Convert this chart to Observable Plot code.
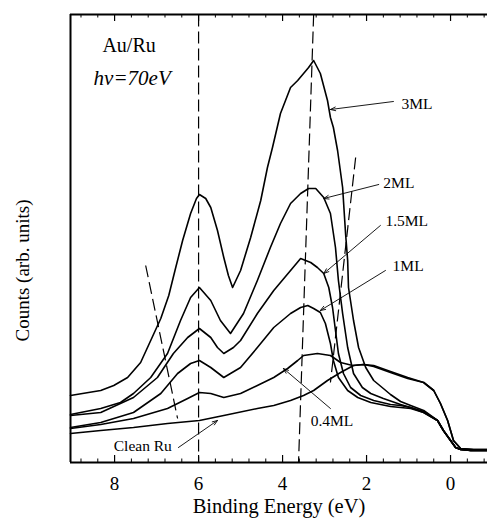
<!DOCTYPE html>
<html><head><meta charset="utf-8">
<script src="https://cdn.jsdelivr.net/npm/d3@7"></script>
<script src="https://cdn.jsdelivr.net/npm/@observablehq/plot@0.6"></script>
<style>html,body{margin:0;padding:0;background:#fff} svg{display:block} svg text{font-family:'Liberation Serif','Times New Roman',serif}</style>
</head><body><div id="chart"></div>
<script>
// Binding energy (eV), counts (arb. units)
const ml3 = [[9.05,67],[8.62,70],[8.33,72],[8.02,77],[7.69,85],[7.38,100],[7.14,122],[6.90,144],[6.71,167],[6.55,194],[6.38,222],[6.19,249],[6.05,264],[5.98,268],[5.83,264],[5.71,255],[5.55,232],[5.40,205],[5.29,187],[5.19,175],[5.00,192],[4.76,225],[4.52,262],[4.36,295],[4.24,315],[4.05,349],[3.93,362],[3.81,375],[3.64,382],[3.50,389],[3.38,395],[3.26,402],[3.10,389],[2.93,362],[2.86,345],[2.79,335],[2.69,312],[2.57,275],[2.50,229],[2.45,202],[2.43,175],[2.31,142],[2.19,115],[2.02,95],[1.83,82],[1.60,74],[1.43,68],[1.19,61],[0.95,57],[0.64,52],[0.31,42],[0.17,32],[0,22],[-0.12,15],[-0.24,13],[-0.48,12],[-0.88,12]];
const ml2 = [[9.05,48],[8.33,54],[7.86,60],[7.55,69],[7.14,85],[6.74,109],[6.43,142],[6.19,165],[5.98,175],[5.71,162],[5.48,142],[5.24,129],[4.93,149],[4.60,182],[4.29,215],[4.05,239],[3.81,259],[3.57,269],[3.38,274],[3.21,274],[3.02,265],[2.86,249],[2.74,215],[2.67,182],[2.57,149],[2.45,115],[2.31,89],[2.10,75],[1.90,69],[1.60,64],[1.19,58],[0.95,55],[0.64,51],[0.31,42],[0.17,32],[0,22],[-0.12,15],[-0.24,13],[-0.48,12],[-0.88,12]];
const ml15 = [[9.05,47],[8.33,50],[7.55,65],[6.98,85],[6.60,109],[6.26,125],[5.98,134],[5.71,125],[5.55,115],[5.40,109],[5.17,115],[5.00,122],[4.60,149],[4.21,172],[3.81,192],[3.57,204],[3.33,200],[3.17,195],[3.02,189],[2.90,175],[2.81,155],[2.74,132],[2.67,109],[2.55,89],[2.38,75],[2.14,67],[1.83,62],[1.43,58],[1.19,57],[0.95,55],[0.64,50],[0.31,42],[0.17,32],[0,22],[-0.12,15],[-0.24,13],[-0.48,12],[-0.88,12]];
const ml1 = [[9.05,35],[8.33,40],[7.55,50],[6.90,69],[6.50,89],[6.19,99],[5.98,102],[5.71,95],[5.40,85],[5.00,95],[4.60,115],[4.21,135],[3.81,149],[3.57,155],[3.40,157],[3.26,154],[3.10,150],[2.98,139],[2.86,119],[2.79,102],[2.67,85],[2.45,72],[2.21,65],[1.90,60],[1.43,56],[1.19,55],[0.95,54],[0.64,50],[0.31,42],[0.17,32],[0,22],[-0.12,15],[-0.24,13],[-0.48,12],[-0.88,12]];
const ml04 = [[9.05,34],[8.33,38],[7.55,44],[6.74,54],[6.26,64],[5.98,70],[5.71,69],[5.40,65],[5.00,69],[4.60,77],[4.21,85],[3.88,94],[3.64,102],[3.50,107],[3.17,109],[2.86,107],[2.62,100],[2.33,97],[2.07,98],[1.83,96],[1.43,90],[1.02,84],[0.64,80],[0.40,72],[0.24,59],[0.07,42],[-0.07,22],[-0.24,14],[-0.55,13],[-0.88,13]];
const cleanRu = [[9.05,29],[8.33,32],[7.55,35],[6.74,39],[5.98,42],[5.40,47],[4.60,54],[4.21,57],[3.81,62],[3.50,67],[3.26,72],[2.93,82],[2.62,90],[2.31,97],[2.07,98],[1.83,97],[1.43,91],[1.02,85],[0.64,80],[0.40,72],[0.24,59],[0.07,42],[-0.07,22],[-0.24,14],[-0.55,13],[-0.88,13]];

const seriesNames = ["3ML","2ML","1.5ML","1ML","0.4ML","Clean Ru"];
const seriesData = [ml3, ml2, ml15, ml1, ml04, cleanRu];

// label text positions [E, counts]
const labelText = ["3ML","2ML","1.5ML","1ML","0.4ML","Clean Ru"];
const labelPos = [[1.17,358],[1.60,279],[1.55,241],[1.38,196],[3.33,41],[8.02,16]];
// arrows [E1, C1, E2, C2]
const arrowSegs = [[1.36,361,2.86,353],[1.71,278,3.02,264],[1.67,237,3.02,189],[1.55,192,3.10,152],[2.86,54,3.98,94],[6.48,15,5.55,42]];
// dashed guide lines [E1, C1, E2, C2]
const dashSegs = [[6.0,448,6.0,0],[3.26,448,3.62,0],[7.26,197,6.50,44],[2.26,305,2.86,80]];

const majorTicks = [8,6,4,2,0];
const minorTicks = d3.range(-20, 23).map(i => i*0.4).filter(v => v > -0.88 && v < 9.05 && Math.abs(v/2 - Math.round(v/2)) > 1e-6);

const xDomain = [9.05, -0.88];
const yTop = 448;

const rows = seriesData.flatMap((pts, i) => pts.map(([e, c]) => ({series: seriesNames[i], e, c})));
const labels = labelText.map((t, i) => ({t, e: labelPos[i][0], c: labelPos[i][1]}));
const arrows = arrowSegs.map(([x1,y1,x2,y2]) => ({x1,y1,x2,y2}));
const dashes = dashSegs.map(([x1,y1,x2,y2]) => ({x1,y1,x2,y2}));

const serif = "'Liberation Serif', 'Times New Roman', serif";

const plot = Plot.plot({
  width: 487, height: 519,
  marginLeft: 70, marginRight: 0, marginTop: 14, marginBottom: 57,
  x: {domain: xDomain},
  y: {domain: [0, yTop], axis: null},
  style: {fontFamily: serif, background: "white", color: "black"},
  marks: [
    Plot.line(rows, {x: "e", y: "c", z: "series", stroke: "black", strokeWidth: 1.6, strokeLinejoin: "round"}),
    Plot.link(dashes, {x1: "x1", y1: "y1", x2: "x2", y2: "y2", stroke: "black", strokeWidth: 1.2, strokeDasharray: "12,5"}),
    Plot.arrow(arrows, {x1: "x1", y1: "y1", x2: "x2", y2: "y2", stroke: "black", strokeWidth: 0.9, headLength: 9, headAngle: 40}),
    Plot.text(labels, {x: "e", y: "c", text: "t", textAnchor: "start", fontSize: 15.5, fontFamily: serif, fill: "black"}),
    Plot.text(["Au/Ru"], {x: 8.29, y: 417, textAnchor: "start", fontSize: 20, fontFamily: serif, fill: "black"}),
    Plot.text(["hν=70eV"], {x: 8.5, y: 384, textAnchor: "start", fontSize: 21, fontFamily: serif, fontStyle: "italic", fill: "black"}),
    // frame
    Plot.ruleX([xDomain[0]], {y1: 0, y2: yTop, stroke: "black", strokeWidth: 2}),
    Plot.ruleY([0, yTop], {x1: xDomain[0], x2: xDomain[1], stroke: "black", strokeWidth: 2}),
    // ticks (inward)
    Plot.ruleX(majorTicks, {y1: 0, y2: 7, stroke: "black", strokeWidth: 1.2}),
    Plot.ruleX(minorTicks, {y1: 0, y2: 3.5, stroke: "black", strokeWidth: 1}),
    Plot.ruleX(majorTicks, {y1: yTop - 7, y2: yTop, stroke: "black", strokeWidth: 1.2}),
    Plot.ruleX(minorTicks, {y1: yTop - 3.5, y2: yTop, stroke: "black", strokeWidth: 1}),
    Plot.axisX(majorTicks, {anchor: "bottom", tickSize: 0, tickPadding: 14, fontSize: 19, fontFamily: serif, label: null, tickFormat: d => String(d)}),
    Plot.text(["Binding Energy (eV)"], {frameAnchor: "bottom", dy: 44, lineAnchor: "middle", fontSize: 20.5, fontFamily: serif, fill: "black"}),
    Plot.text(["Counts (arb. units)"], {x: 10.19, y: 192, rotate: -90, lineAnchor: "middle", fontSize: 19, fontFamily: serif, fill: "black"})
  ]
});
document.getElementById("chart").appendChild(plot);
</script>
</body></html>
